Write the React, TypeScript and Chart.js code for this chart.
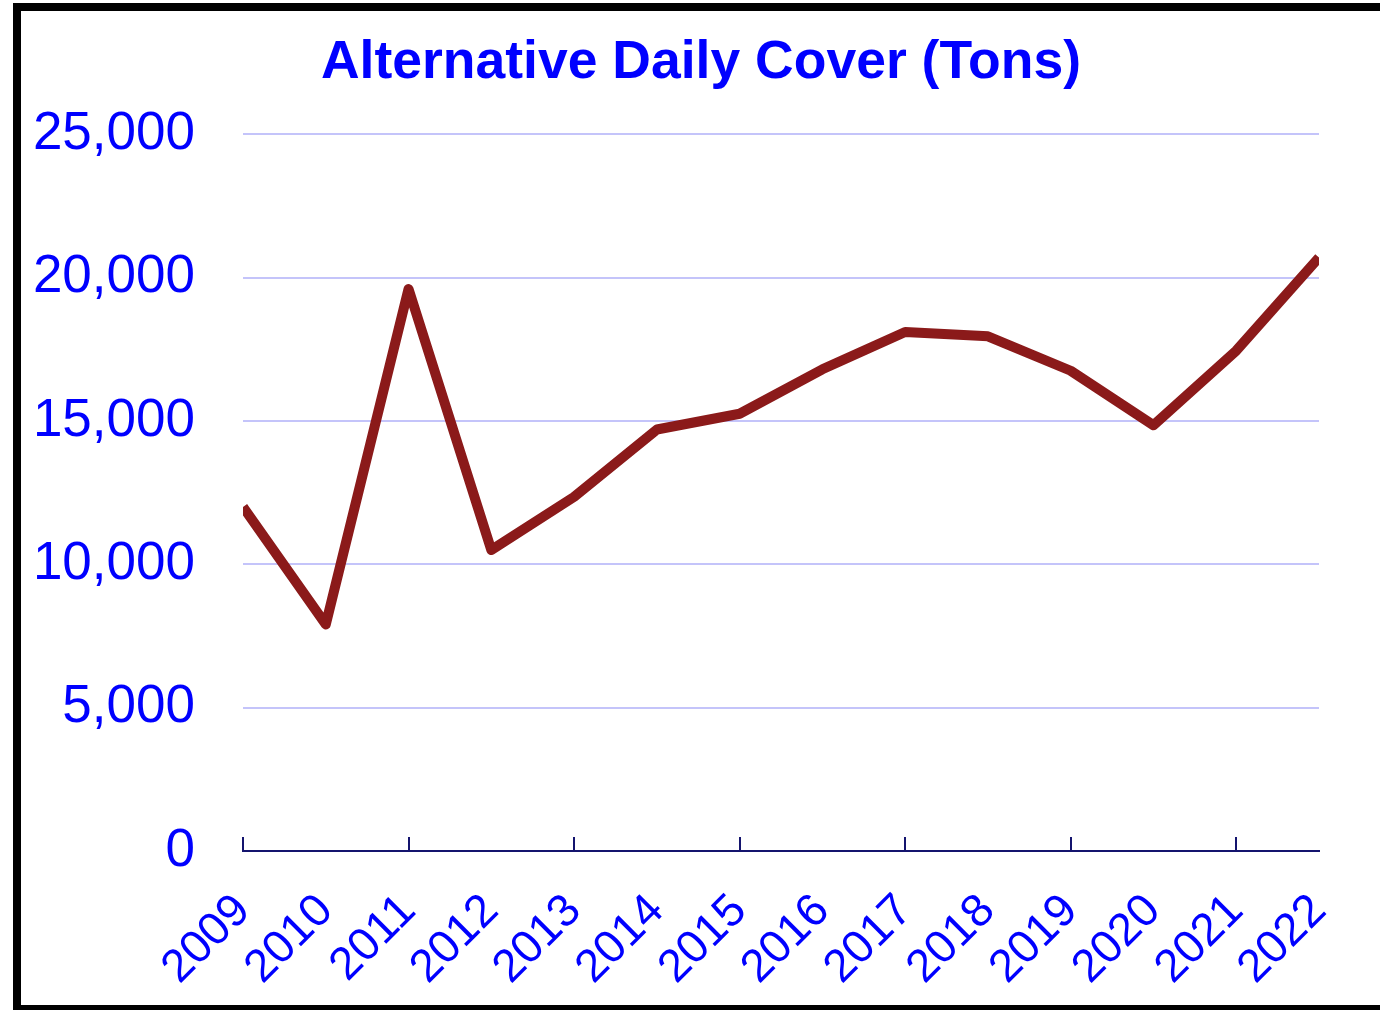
import React, { useEffect, useRef } from "react";
import { Chart, registerables } from "chart.js";

Chart.register(...registerables);

const years: string[] = ["2009","2010","2011","2012","2013","2014","2015","2016","2017","2018","2019","2020","2021","2022"];
const tons: number[] = [12000, 7900, 19600, 10500, 12350, 14700, 15250, 16800, 18100, 17950, 16750, 14850, 17450, 20700];
const yMin = 0;
const yMax = 25000;
const yStep = 5000;
const chartTitle = "Alternative Daily Cover (Tons)";

const FONT = "'Liberation Sans', Arial, Helvetica, sans-serif";
const BLUE = "#0000ff";
const NAVY = "#14146e";

const innerTicks = {
  id: "innerTicks",
  afterDraw(chart: any) {
    const x = chart.scales.x;
    const ctx = chart.ctx;
    const bottom = chart.chartArea.bottom;
    ctx.save();
    ctx.strokeStyle = NAVY;
    ctx.lineWidth = 2;
    ctx.beginPath();
    for (let i = 0; i < years.length; i += 2) {
      const px = Math.round(x.getPixelForValue(i));
      ctx.moveTo(px, bottom);
      ctx.lineTo(px, bottom - 14);
    }
    ctx.stroke();
    ctx.restore();
  },
};

const CANVAS_LEFT = 22;
const CANVAS_W = 1358;
const CANVAS_H = 1010;

export default function App() {
  const ref = useRef<HTMLCanvasElement | null>(null);
  useEffect(() => {
    if (!ref.current) return;
    const chart = new Chart(ref.current, {
      type: "line",
      data: {
        labels: years,
        datasets: [
          {
            data: tons,
            borderColor: "#8b1a1a",
            borderWidth: 10,
            borderJoinStyle: "round",
            borderCapStyle: "butt",
            pointRadius: 0,
            tension: 0,
            clip: 0,
          },
        ],
      },
      options: {
        animation: false,
        responsive: false,
        layout: { padding: 0 },
        plugins: {
          legend: { display: false },
          tooltip: { enabled: false },
          title: {
            display: true,
            text: chartTitle,
            color: BLUE,
            font: { family: FONT, size: 53.5, weight: "bold", lineHeight: 1.2 },
            padding: { top: 31, bottom: 39 },
          },
        },
        scales: {
          x: {
            offset: false,
            grid: { display: false, drawTicks: false },
            border: { display: true, color: NAVY, width: 2 },
            ticks: {
              color: BLUE,
              font: { family: FONT, size: 46 },
              minRotation: 45,
              maxRotation: 45,
              autoSkip: false,
              padding: 33,
            },
            afterFit: (s: any) => {
              s.height = 159;
              s.paddingLeft = 0;
              s.paddingRight = 61;
            },
          },
          y: {
            min: yMin,
            max: yMax,
            grid: { color: "#c4c4fa", lineWidth: 2, drawTicks: false },
            border: { display: false },
            ticks: {
              stepSize: yStep,
              color: BLUE,
              font: { family: FONT, size: 53 },
              padding: 48,
              callback: (v: any) => Number(v).toLocaleString("en-US"),
            },
            afterFit: (s: any) => {
              s.width = 243 - CANVAS_LEFT;
            },
          },
        },
      },
      plugins: [innerTicks],
    });
    return () => chart.destroy();
  }, []);
  return (
    <div style={{ position: "fixed", left: 0, top: 0, width: 1380, height: 1010, overflow: "hidden", background: "#fff" }}>
      <canvas
        ref={ref}
        width={CANVAS_W}
        height={CANVAS_H}
        style={{ position: "absolute", left: CANVAS_LEFT, top: 0, width: CANVAS_W, height: CANVAS_H }}
      />
      <div
        style={{
          position: "absolute",
          left: 13,
          top: 3,
          width: 1420,
          height: 1010,
          boxSizing: "border-box",
          border: "8px solid #000",
          pointerEvents: "none",
        }}
      />
    </div>
  );
}
